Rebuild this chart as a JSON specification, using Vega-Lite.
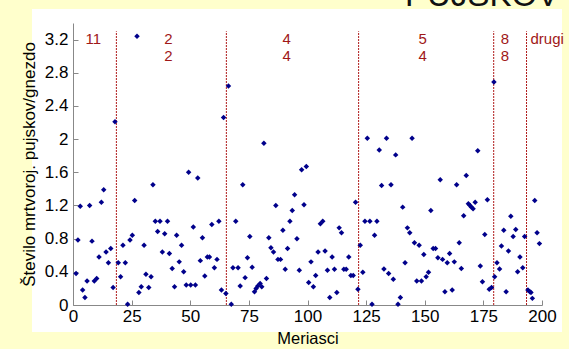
{
  "$schema": "https://vega.github.io/schema/vega-lite/v6.json",
  "autosize": "none",
  "width": 530,
  "height": 323,
  "padding": {"left": 32, "top": 9, "right": 7, "bottom": 17},
  "background": "#FFFFCC",
  "config": {"view": {"fill": "white", "stroke": null}, "font": "Liberation Sans"},
  "datasets": {
    "heading": [{"m": 207.3, "v": 3.61, "t": "PUJSKOV"}],
    "cuts": [{"m": 18.5}, {"m": 65.4}, {"m": 121.8}, {"m": 179.4}, {"m": 193.4}],
    "labels": [
      {"m": 8.7, "v": 3.21, "t": "11"},
      {"m": 40.7, "v": 3.21, "t": "2"},
      {"m": 40.7, "v": 3.0, "t": "2"},
      {"m": 91.1, "v": 3.21, "t": "4"},
      {"m": 91.1, "v": 3.0, "t": "4"},
      {"m": 149.1, "v": 3.21, "t": "5"},
      {"m": 149.1, "v": 3.0, "t": "4"},
      {"m": 184.2, "v": 3.21, "t": "8"},
      {"m": 184.2, "v": 3.0, "t": "8"},
      {"m": 202.2, "v": 3.21, "t": "drugi"}
    ],
    "points": [
      {"m": 1.3, "v": 0.38}, {"m": 2.1, "v": 0.785}, {"m": 3.1, "v": 1.19}, {"m": 4.1, "v": 0.18}, {"m": 5.1, "v": 0.09},
      {"m": 6.0, "v": 0.29}, {"m": 7.1, "v": 1.2}, {"m": 8.1, "v": 0.77}, {"m": 9.1, "v": 0.29}, {"m": 10.1, "v": 0.32},
      {"m": 11.1, "v": 0.58}, {"m": 12.1, "v": 1.24}, {"m": 13.1, "v": 1.39}, {"m": 14.1, "v": 0.64}, {"m": 15.1, "v": 0.51},
      {"m": 16.1, "v": 0.68}, {"m": 17.1, "v": 0.21}, {"m": 17.9, "v": 2.21}, {"m": 19.3, "v": 0.51}, {"m": 20.3, "v": 0.34},
      {"m": 21.3, "v": 0.72}, {"m": 22.3, "v": 0.51}, {"m": 23.3, "v": 0.01}, {"m": 24.3, "v": 0.785}, {"m": 25.3, "v": 0.84},
      {"m": 26.3, "v": 1.26}, {"m": 27.3, "v": 3.24}, {"m": 28.1, "v": 0.15}, {"m": 29.1, "v": 0.22}, {"m": 30.3, "v": 0.72},
      {"m": 31.1, "v": 0.37}, {"m": 32.3, "v": 0.21}, {"m": 33.3, "v": 0.34}, {"m": 34.1, "v": 1.45}, {"m": 35.1, "v": 1.01},
      {"m": 36.1, "v": 0.885}, {"m": 37.1, "v": 1.01}, {"m": 38.1, "v": 0.64}, {"m": 39.1, "v": 0.86}, {"m": 40.3, "v": 1.01},
      {"m": 41.1, "v": 0.62}, {"m": 42.3, "v": 0.44}, {"m": 43.3, "v": 0.22}, {"m": 44.2, "v": 0.84}, {"m": 45.3, "v": 0.52},
      {"m": 46.3, "v": 0.72}, {"m": 47.2, "v": 0.4}, {"m": 48.3, "v": 0.24}, {"m": 49.3, "v": 1.6}, {"m": 50.2, "v": 0.24},
      {"m": 51.3, "v": 0.94}, {"m": 52.2, "v": 0.24}, {"m": 53.2, "v": 1.53}, {"m": 54.3, "v": 0.535}, {"m": 55.2, "v": 0.81},
      {"m": 56.2, "v": 0.35}, {"m": 57.3, "v": 0.58}, {"m": 58.2, "v": 0.58}, {"m": 59.2, "v": 0.97}, {"m": 60.3, "v": 0.45},
      {"m": 61.4, "v": 0.55}, {"m": 62.2, "v": 1.01}, {"m": 63.3, "v": 0.18}, {"m": 64.2, "v": 2.26}, {"m": 65.2, "v": 0.14},
      {"m": 66.3, "v": 2.64}, {"m": 67.5, "v": 0.01}, {"m": 68.2, "v": 0.45}, {"m": 69.4, "v": 1.01}, {"m": 70.4, "v": 0.45},
      {"m": 71.3, "v": 0.23}, {"m": 72.4, "v": 1.45}, {"m": 73.4, "v": 0.33}, {"m": 74.4, "v": 0.57}, {"m": 75.4, "v": 0.825},
      {"m": 76.4, "v": 0.455}, {"m": 77.4, "v": 0.16}, {"m": 78.1, "v": 0.2}, {"m": 78.8, "v": 0.23}, {"m": 79.8, "v": 0.26},
      {"m": 80.5, "v": 0.22}, {"m": 81.4, "v": 1.95}, {"m": 82.5, "v": 0.32}, {"m": 83.5, "v": 0.81}, {"m": 84.4, "v": 0.69},
      {"m": 85.5, "v": 0.64}, {"m": 86.5, "v": 1.2}, {"m": 87.4, "v": 0.55}, {"m": 88.5, "v": 0.55}, {"m": 89.5, "v": 0.9},
      {"m": 90.5, "v": 0.43}, {"m": 91.5, "v": 0.68}, {"m": 92.5, "v": 1.01}, {"m": 93.5, "v": 1.14}, {"m": 94.5, "v": 1.33},
      {"m": 95.5, "v": 0.8}, {"m": 96.5, "v": 0.42}, {"m": 97.5, "v": 1.63}, {"m": 98.5, "v": 1.21}, {"m": 99.5, "v": 1.67},
      {"m": 100.5, "v": 0.27}, {"m": 101.5, "v": 0.52}, {"m": 102.5, "v": 0.22}, {"m": 103.5, "v": 0.355}, {"m": 104.5, "v": 0.64},
      {"m": 105.5, "v": 0.98}, {"m": 106.5, "v": 1.01}, {"m": 107.5, "v": 0.65}, {"m": 108.5, "v": 0.42}, {"m": 109.5, "v": 0.09},
      {"m": 110.5, "v": 0.58}, {"m": 111.5, "v": 0.43}, {"m": 112.5, "v": 0.15}, {"m": 113.5, "v": 0.93}, {"m": 114.5, "v": 0.87},
      {"m": 115.5, "v": 0.43}, {"m": 116.5, "v": 0.43}, {"m": 117.6, "v": 0.58}, {"m": 118.5, "v": 0.355}, {"m": 119.5, "v": 0.355},
      {"m": 120.5, "v": 1.24}, {"m": 121.5, "v": 0.19}, {"m": 122.5, "v": 0.72}, {"m": 123.6, "v": 0.395}, {"m": 124.5, "v": 1.01},
      {"m": 125.5, "v": 2.01}, {"m": 126.6, "v": 1.01}, {"m": 127.5, "v": 0.01}, {"m": 128.6, "v": 0.84}, {"m": 129.6, "v": 1.01},
      {"m": 130.6, "v": 1.87}, {"m": 131.6, "v": 1.44}, {"m": 132.6, "v": 0.435}, {"m": 133.7, "v": 2.01}, {"m": 134.6, "v": 0.38},
      {"m": 135.6, "v": 1.45}, {"m": 136.6, "v": 0.31}, {"m": 137.6, "v": 1.81}, {"m": 138.6, "v": 0.01}, {"m": 139.6, "v": 0.09},
      {"m": 140.6, "v": 1.18}, {"m": 141.6, "v": 0.51}, {"m": 142.6, "v": 0.93}, {"m": 143.6, "v": 0.87}, {"m": 144.6, "v": 2.01},
      {"m": 145.6, "v": 0.75}, {"m": 146.6, "v": 0.29}, {"m": 147.6, "v": 0.72}, {"m": 148.6, "v": 0.29}, {"m": 149.6, "v": 0.61},
      {"m": 150.6, "v": 0.34}, {"m": 151.6, "v": 0.395}, {"m": 152.6, "v": 1.14}, {"m": 153.6, "v": 0.68}, {"m": 154.6, "v": 0.68},
      {"m": 155.6, "v": 0.57}, {"m": 156.6, "v": 1.51}, {"m": 157.6, "v": 0.55}, {"m": 158.6, "v": 0.16}, {"m": 159.6, "v": 0.51},
      {"m": 160.6, "v": 0.62}, {"m": 161.7, "v": 0.18}, {"m": 162.6, "v": 0.52}, {"m": 163.6, "v": 1.45}, {"m": 164.7, "v": 0.75},
      {"m": 165.6, "v": 0.44}, {"m": 166.6, "v": 1.075}, {"m": 167.7, "v": 1.56}, {"m": 168.6, "v": 1.22}, {"m": 169.3, "v": 1.2},
      {"m": 169.9, "v": 1.18}, {"m": 170.6, "v": 1.16}, {"m": 171.5, "v": 1.24}, {"m": 172.6, "v": 1.86}, {"m": 173.7, "v": 0.47},
      {"m": 174.6, "v": 0.28}, {"m": 175.6, "v": 0.85}, {"m": 176.7, "v": 1.27}, {"m": 177.5, "v": 0.19}, {"m": 178.5, "v": 0.21},
      {"m": 179.5, "v": 2.69}, {"m": 179.8, "v": 0.34}, {"m": 180.8, "v": 0.51}, {"m": 181.9, "v": 0.435}, {"m": 182.7, "v": 0.71},
      {"m": 183.7, "v": 0.9}, {"m": 184.7, "v": 0.16}, {"m": 185.7, "v": 0.65}, {"m": 186.7, "v": 1.07}, {"m": 187.7, "v": 0.825},
      {"m": 188.8, "v": 0.91}, {"m": 189.6, "v": 0.4}, {"m": 190.6, "v": 0.58}, {"m": 191.8, "v": 0.45}, {"m": 192.6, "v": 0.825},
      {"m": 194.0, "v": 0.18}, {"m": 194.8, "v": 0.16}, {"m": 195.3, "v": 0.15}, {"m": 195.9, "v": 0.08}, {"m": 196.9, "v": 1.26},
      {"m": 197.9, "v": 0.87}, {"m": 198.9, "v": 0.74}
    ]
  },
  "layer": [
    {
      "data": {"name": "heading"},
      "mark": {"type": "text", "color": "#111111", "fontSize": 33, "align": "right", "baseline": "alphabetic", "font": "Liberation Sans"},
      "encoding": {
        "x": {"field": "m", "type": "quantitative"},
        "y": {"field": "v", "type": "quantitative"},
        "text": {"field": "t"}
      }
    },
    {
      "data": {"name": "cuts"},
      "mark": {"type": "rule", "color": "#B01C1C", "strokeDash": [2, 1], "strokeWidth": 1},
      "encoding": {
        "x": {"field": "m", "type": "quantitative"},
        "y": {"datum": 0, "type": "quantitative"},
        "y2": {"datum": 3.3}
      }
    },
    {
      "data": {"name": "labels"},
      "mark": {"type": "text", "color": "#A01818", "fontSize": 15, "align": "center", "baseline": "middle", "font": "Liberation Sans"},
      "encoding": {
        "x": {"field": "m", "type": "quantitative"},
        "y": {"field": "v", "type": "quantitative"},
        "text": {"field": "t"}
      }
    },
    {
      "data": {"name": "points"},
      "mark": {"type": "point", "shape": "diamond", "filled": true, "color": "#00008B", "opacity": 1, "size": 30},
      "encoding": {
        "x": {
          "field": "m", "type": "quantitative",
          "scale": {"domain": [0, 200], "range": [41, 510], "nice": false, "zero": false},
          "axis": {
            "title": "Meriasci", "values": [0, 25, 50, 75, 100, 125, 150, 175, 200],
            "offset": -27, "tickSize": -5, "labelPadding": 8, "labelFlush": false, "labelOverlap": false,
            "domainColor": "#888888", "tickColor": "#888888", "labelColor": "#000000", "labelFontSize": 17,
            "titleFontSize": 16.5, "titleFontWeight": "normal", "titleColor": "#000000", "titlePadding": 6, "grid": false
          }
        },
        "y": {
          "field": "v", "type": "quantitative",
          "scale": {"domain": [0, 3.4], "range": [296, 14], "nice": false, "zero": false},
          "axis": {
            "title": "Število mrtvoroj. pujskov/gnezdo",
            "values": [0, 0.2, 0.4, 0.6, 0.8, 1, 1.2, 1.4, 1.6, 1.8, 2, 2.2, 2.4, 2.6, 2.8, 3, 3.2, 3.4],
            "format": ".1~f",
            "labelExpr": "round(datum.value * 10) % 4 == 0 ? datum.label : ''",
            "offset": -41, "tickSize": -5, "labelPadding": 10, "labelFlush": false, "labelOverlap": false,
            "domainColor": "#888888", "tickColor": "#888888", "labelColor": "#000000", "labelFontSize": 17,
            "titleFontSize": 17, "titleFontWeight": "normal", "titleColor": "#000000", "titlePadding": 6, "grid": false
          }
        }
      }
    }
  ]
}
